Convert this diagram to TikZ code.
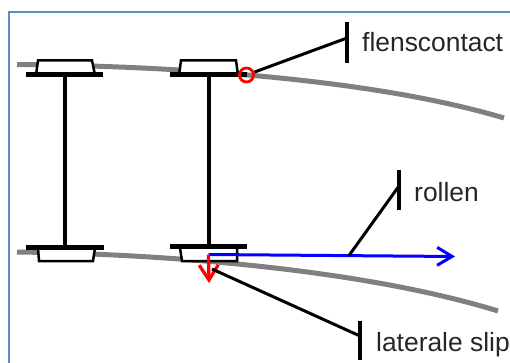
\documentclass[tikz,border=0pt]{standalone}
\usepackage{fontspec}
\setmainfont{Liberation Sans}
\usetikzlibrary{arrows.meta,positioning}
\definecolor{framecol}{HTML}{5B8BC9}
\tikzset{
    frame/.style={
        draw=framecol,
        line width=2pt,
    },
    rail/.style={
        draw=black!50,
        line width=5pt,
    },
    wheel/.style={
        draw=black,
        fill=white,
        line width=2.5pt,
    },
    axle/.style={
        draw=black,
        line width=4pt,
    },
    plate/.style={
        draw=black,
        line width=5pt,
    },
    lead/.style={
        draw=black,
        line width=3pt,
    },
    tick/.style={
        draw=black,
        line width=4.5pt,
    },
    lbl/.style={
        anchor=base west,
        inner sep=0pt,
        text=black!85,
        font=\fontsize{26.4}{30}\selectfont,
    },
    rollvec/.style={
        draw=blue,
        line width=3pt,
        -{Straight Barb[length=15pt,width=18pt,line width=3pt]},
    },
    slipvec/.style={
        draw=red,
        line width=3.2pt,
        -{Straight Barb[length=15pt,width=19pt,line width=3.2pt]},
    },
    contact/.style={
        circle,
        draw=red,
        line width=2.8pt,
        minimum size=14pt,
        inner sep=0pt,
    },
}
\begin{document}
\begin{tikzpicture}[x=1pt,y=-1pt]
    \useasboundingbox (0,0) rectangle (510,363);
    \draw [frame] (510,12.5) -- (8.5,12.5) -- (8.5,363);

    % rails
    \draw [rail] (17,64.5) .. controls (170,66) and (370,78) .. (504,118);
    \draw [rail] (17,252) .. controls (170,254) and (365,270) .. (498,311);

    % wheelsets
    \draw [wheel] (36,75) -- (38,60.5) -- (92,60.5) -- (95,75);
    \draw [wheel] (179,75) -- (181,60.5) -- (236,60.5) -- (238,75);
    \draw [wheel] (38,248) -- (39,261) -- (93,261) -- (95,248);
    \draw [wheel] (180,248) -- (182,261) -- (237,261) -- (237,248);

    \coordinate (T1) at (65,75);
    \coordinate (B1) at (65,247);
    \coordinate (T2) at (208.5,75);
    \coordinate (B2) at (208.5,246);
    \draw [axle] (T1) -- (B1);
    \draw [axle] (T2) -- (B2);
    \draw [plate] (26,75) -- (103,75);
    \draw [plate] (170,75) -- (247,75);
    \draw [plate] (26,247) -- (104,247);
    \draw [plate] (170,246) -- (247,246);

    % velocities
    \coordinate (O) at (208.5,254.5);
    \coordinate (rollend) at (455,256.5);
    \coordinate (slipend) at (209,283);
    \draw [rollvec] (O) -- (rollend);
    \draw [slipvec] (O) -- (slipend);
    \node [contact] (C) at (246.5,75) {};

    % labels
    \coordinate (F1) at (347,22);
    \coordinate (F2) at (347,63);
    \coordinate (R1) at (399,170);
    \coordinate (R2) at (399,210);
    \coordinate (L1) at (360,321);
    \coordinate (L2) at (360,360);
    \draw [tick] (F1) -- (F2);
    \draw [tick] (R1) -- (R2);
    \draw [tick] (L1) -- (L2);

    \coordinate (Fa) at (347,38);
    \coordinate (Ra) at (399,186);
    \coordinate (La) at (360,336);
    \coordinate (Rb) at (349,255.5);
    \coordinate (Lb) at (212,269);
    \draw [lead] (C) -- (Fa);
    \draw [lead] (Rb) -- (Ra);
    \draw [lead] (Lb) -- (La);

    \node [lbl] (flens) at (362,52) {flenscontact};
    \node [lbl] (rollen) at (414,201) {rollen};
    \node [lbl] (slip) at (376,351) {laterale slip};
\end{tikzpicture}
\end{document}
